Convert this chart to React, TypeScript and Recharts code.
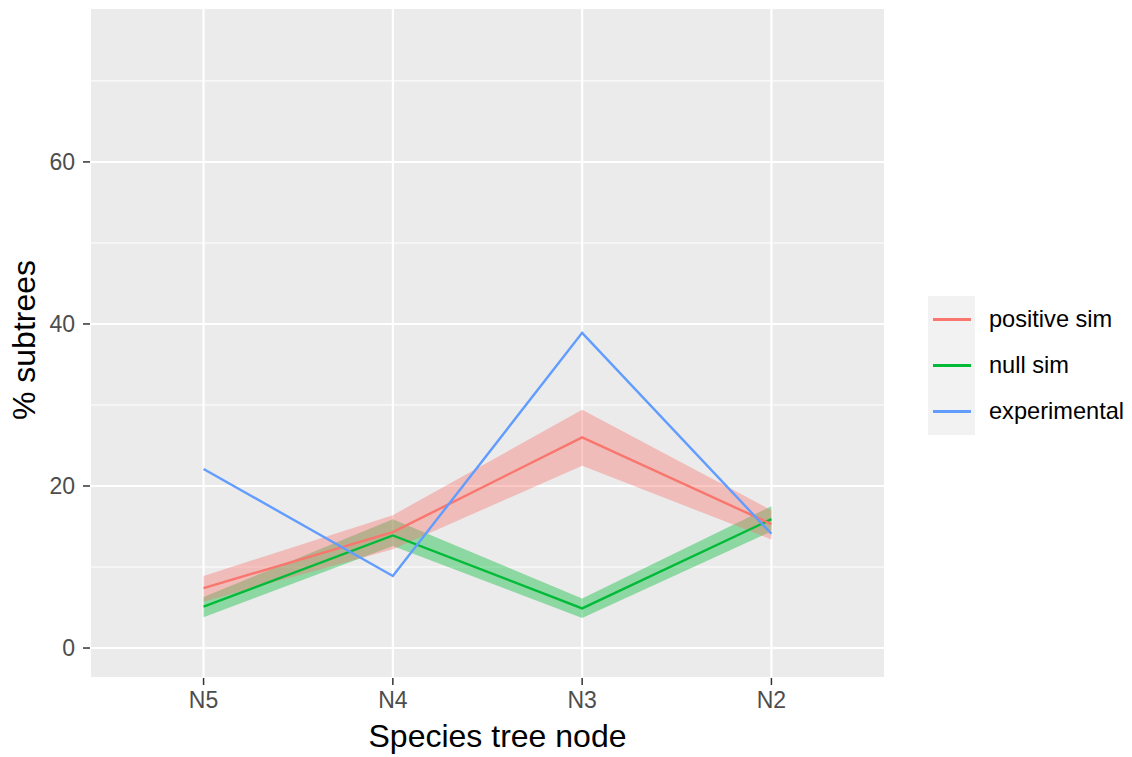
import React from "react"
import { Area, CartesianGrid, ComposedChart, Line, XAxis, YAxis } from "recharts"

const nodes = ["N5", "N4", "N3", "N2"]
const positiveMean = [7.4, 14.3, 26.0, 15.3]
const positiveLow = [5.7, 12.2, 22.5, 13.4]
const positiveHigh = [8.9, 16.4, 29.4, 17.0]
const nullMean = [5.1, 13.9, 4.9, 15.9]
const nullLow = [3.8, 12.6, 3.7, 14.4]
const nullHigh = [6.3, 15.9, 6.1, 17.5]
const experimental = [22.1, 8.9, 38.9, 14.1]

const yTicks = [0, 20, 40, 60]
const yMinor = [10, 30, 50, 70]
const Y_MIN = -3.7
const Y_MAX = 79

const RED = "#F8766D"
const GREEN = "#00BA38"
const BLUE = "#619CFF"
const FONT = "'Liberation Sans', Arial, sans-serif"

const data = nodes.map((n, i) => ({
  x: i + 1,
  node: n,
  positive: positiveMean[i],
  positiveBand: [positiveLow[i], positiveHigh[i]],
  nullSim: nullMean[i],
  nullBand: [nullLow[i], nullHigh[i]],
  experimental: experimental[i],
}))

const legendItems = [
  { label: "positive sim", color: RED },
  { label: "null sim", color: GREEN },
  { label: "experimental", color: BLUE },
]

const LegendBox = () => (
  <div style={{ position: "absolute", left: 928, top: 296, fontFamily: FONT, fontSize: 23.6, color: "#000" }}>
    {legendItems.map((it) => (
      <div key={it.label} style={{ display: "flex", alignItems: "center", height: 46.3 }}>
        <div style={{ width: 47, height: 46.3, background: "#F2F2F2", display: "flex", alignItems: "center", justifyContent: "center" }}>
          <div style={{ width: 38, height: 3, background: it.color }} />
        </div>
        <span style={{ marginLeft: 14, whiteSpace: "nowrap" }}>{it.label}</span>
      </div>
    ))}
  </div>
)

// minor gridlines, mapped through the y domain onto the plot area
const minorGrid = (props: any) => {
  const top = props.offset?.top ?? 8
  const h = props.offset?.height ?? 670
  return yMinor.map((v) => top + ((Y_MAX - v) / (Y_MAX - Y_MIN)) * h)
}

export default function App() {
  return (
    <div style={{ position: "absolute", left: 0, top: 0, width: 1132, height: 757, background: "#fff" }}>
      <ComposedChart width={1132} height={757} data={data} margin={{ top: 8, right: 247, bottom: 0, left: 0 }}>
        <CartesianGrid
          fill="#EBEBEB"
          stroke="#FFFFFF"
          strokeWidth={1}
          vertical={false}
          horizontalCoordinatesGenerator={minorGrid}
        />
        <CartesianGrid stroke="#FFFFFF" strokeWidth={2.1} />
        <XAxis
          dataKey="x"
          type="number"
          domain={[0.4, 4.6]}
          ticks={[1, 2, 3, 4]}
          tickFormatter={(v: number) => nodes[v - 1]}
          height={79}
          axisLine={false}
          tickLine={{ stroke: "#333333", strokeWidth: 1.5 }}
          tickSize={7}
          tick={{ fill: "#4D4D4D", fontSize: 23, fontFamily: FONT }}
          tickMargin={7}
          label={{ value: "Species tree node", position: "insideBottom", offset: 10, dx: 10, fill: "#000", fontSize: 32, fontFamily: FONT }}
        />
        <YAxis
          type="number"
          domain={[Y_MIN, Y_MAX]}
          ticks={yTicks}
          width={90}
          axisLine={false}
          tickLine={{ stroke: "#333333", strokeWidth: 1.5 }}
          tickSize={7}
          tick={{ fill: "#4D4D4D", fontSize: 23, fontFamily: FONT }}
          tickMargin={8}
          allowDataOverflow
          label={{ value: "% subtrees", angle: -90, position: "insideLeft", offset: 24, dy: -3, fill: "#000", fontSize: 32, fontFamily: FONT, style: { textAnchor: "middle" } }}
        />
        <Area dataKey="nullBand" type="linear" stroke="none" fill={GREEN} fillOpacity={0.4} isAnimationActive={false} />
        <Line dataKey="nullSim" type="linear" stroke={GREEN} strokeWidth={2.4} dot={false} activeDot={false} isAnimationActive={false} />
        <Area dataKey="positiveBand" type="linear" stroke="none" fill={RED} fillOpacity={0.4} isAnimationActive={false} />
        <Line dataKey="positive" type="linear" stroke={RED} strokeWidth={2.4} dot={false} activeDot={false} isAnimationActive={false} />
        <Line dataKey="experimental" type="linear" stroke={BLUE} strokeWidth={2.4} dot={false} activeDot={false} isAnimationActive={false} />
      </ComposedChart>
      <LegendBox />
    </div>
  )
}
